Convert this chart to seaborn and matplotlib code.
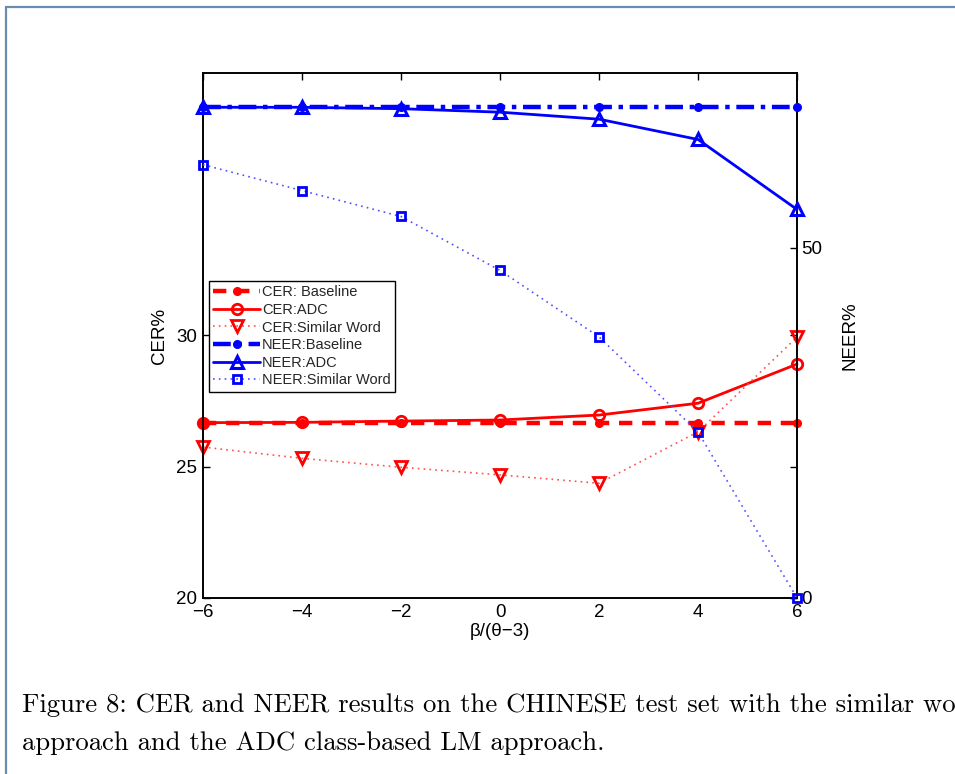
import matplotlib
matplotlib.use("Agg")
import matplotlib.pyplot as plt
import seaborn as sns
import pandas as pd
from matplotlib.lines import Line2D

# ---- data ----
x_vals = [-6, -4, -2, 0, 2, 4, 6]
cer_baseline = [26.68, 26.68, 26.68, 26.68, 26.68, 26.68, 26.68]
cer_adc = [26.68, 26.69, 26.74, 26.78, 26.97, 27.42, 28.91]
cer_similar = [25.75, 25.32, 24.98, 24.69, 24.37, 26.33, 29.94]
neer_baseline = [70.1, 70.1, 70.1, 70.1, 70.1, 70.1, 70.1]
neer_adc = [70.1, 70.1, 69.9, 69.4, 68.4, 65.5, 55.5]
neer_similar = [61.9, 58.2, 54.5, 46.8, 37.3, 23.7, 0.0]

x_ticks = [-6, -4, -2, 0, 2, 4, 6]
cer_ticks = [20, 25, 30]
neer_ticks = [0, 50]

labels = ["CER: Baseline", "CER:ADC", "CER:Similar Word",
          "NEER:Baseline", "NEER:ADC", "NEER:Similar Word"]

caption_1 = "Figure 8: CER and NEER results on the CHINESE test set with the similar wo"
caption_2 = "approach and the ADC class-based LM approach."

sns.set_theme(style="white")
plt.rcParams["font.family"] = ["Liberation Sans", "DejaVu Sans"]
plt.rcParams["axes.unicode_minus"] = True

fig = plt.figure(figsize=(9.55, 7.74), dpi=100)
ax = fig.add_axes([0.2126, 0.2274, 0.622, 0.6783])
ax2 = ax.twinx()

RED = "#ff0000"
BLUE = "#0000ff"

df = pd.DataFrame({"x": x_vals, "cb": cer_baseline, "ca": cer_adc, "cs": cer_similar,
                   "nb": neer_baseline, "na": neer_adc, "ns": neer_similar})

# CER series (left axis)
sns.lineplot(data=df, x="x", y="cb", ax=ax, color=RED, linestyle=(0, (3, 2.2)), lw=3.2,
             marker="o", markersize=5.5, markerfacecolor=RED, markeredgecolor=RED,
             markeredgewidth=1, label=labels[0], legend=False, clip_on=False)
sns.lineplot(data=df, x="x", y="ca", ax=ax, color=RED, linestyle="-", lw=2,
             marker="o", markersize=7.5, markerfacecolor="none", markeredgecolor=RED,
             markeredgewidth=2, label=labels[1], legend=False, clip_on=False)
sns.lineplot(data=df, x="x", y="cs", ax=ax, color="#ff5050", linestyle=(0, (1, 2.5)), lw=1.2,
             marker="v", markersize=9, markerfacecolor="none", markeredgecolor=RED,
             markeredgewidth=2, label=labels[2], legend=False, clip_on=False)

# NEER series (right axis)
sns.lineplot(data=df, x="x", y="nb", ax=ax2, color=BLUE, linestyle=(0, (4, 1.5, 1, 1.5)), lw=3.2,
             marker="o", markersize=5.5, markerfacecolor=BLUE, markeredgecolor=BLUE,
             markeredgewidth=1, label=labels[3], legend=False, clip_on=False)
sns.lineplot(data=df, x="x", y="na", ax=ax2, color=BLUE, linestyle="-", lw=2,
             marker="^", markersize=8.5, markerfacecolor="none", markeredgecolor=BLUE,
             markeredgewidth=2.2, label=labels[4], legend=False, clip_on=False)
sns.lineplot(data=df, x="x", y="ns", ax=ax2, color="#5050ff", linestyle=(0, (1, 2.5)), lw=1.2,
             marker="s", markersize=6, markerfacecolor="none", markeredgecolor=BLUE,
             markeredgewidth=2, label=labels[5], legend=False, clip_on=False)

ax.set_xlim(-6, 6)
ax.set_ylim(20, 40)
ax2.set_ylim(0, 75)
ax.set_xticks(x_ticks)
ax.set_yticks(cer_ticks)
ax2.set_yticks(neer_ticks)

for a in (ax, ax2):
    for s in a.spines.values():
        s.set_color("black")
        s.set_linewidth(1.2)
        s.set_zorder(0.5)
    a.set_facecolor("none")
ax.set_facecolor("white")

ax.tick_params(axis="both", direction="in", length=5, width=1, colors="black",
               labelsize=13.5, top=True, right=True, pad=4)
ax.tick_params(axis="y", labelright=False)
ax2.tick_params(axis="y", direction="in", length=5, width=1, colors="black",
                labelsize=13.5, pad=3)

ax.set_xlabel("β/(θ−3)", fontsize=13.5, labelpad=2, color="black")
ax.set_ylabel("CER%", fontsize=13.5, labelpad=6, color="black")
ax2.set_ylabel("NEER%", fontsize=13.5, labelpad=14, color="black")

h1, l1 = ax.get_legend_handles_labels()
h2, l2 = ax2.get_legend_handles_labels()
leg = ax2.legend(h1 + h2, l1 + l2, loc="upper left", bbox_to_anchor=(0.01, 0.604),
                 borderaxespad=0, fontsize=10.5, frameon=True, fancybox=False,
                 edgecolor="black", framealpha=1, handlelength=3.2, handletextpad=0.15,
                 labelspacing=0.25, borderpad=0.3)
leg.get_frame().set_linewidth(1)
leg.set_zorder(10)

# page frame lines
frame_col = "#6b8bb0"
fig.add_artist(Line2D([6 / 955, 6 / 955], [0, 1 - 7 / 774], transform=fig.transFigure,
                      color=frame_col, lw=1.6))
fig.add_artist(Line2D([6 / 955, 1], [1 - 7 / 774, 1 - 7 / 774], transform=fig.transFigure,
                      color=frame_col, lw=1.6))

cap_font = ["cmr10", "DejaVu Serif"]
fig.text(22 / 955, 1 - 705 / 774, caption_1,
         fontsize=19.2, family=cap_font, va="center", ha="left", color="black")
fig.text(22 / 955, 1 - 743 / 774, caption_2,
         fontsize=19.2, family=cap_font, va="center", ha="left", color="black")

fig.savefig("out.png", dpi=100)
